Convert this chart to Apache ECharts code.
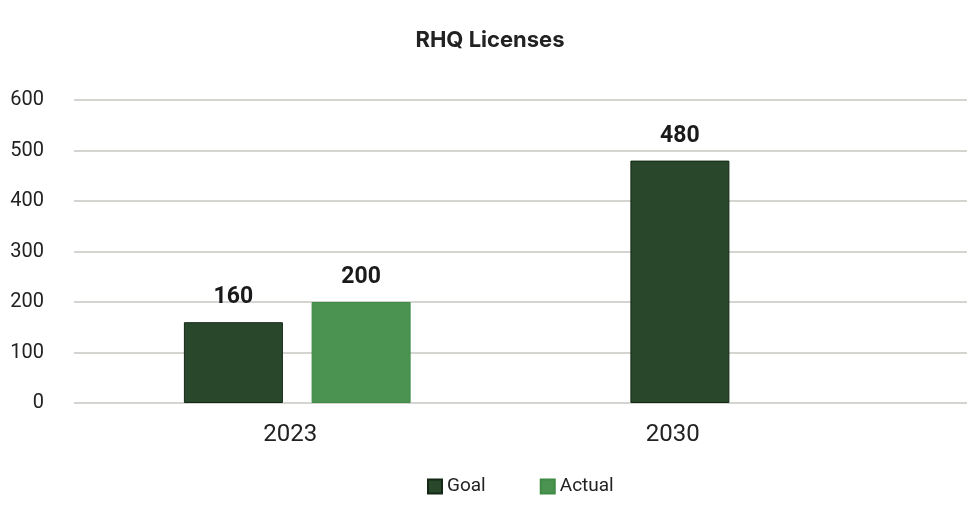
<!DOCTYPE html>
<html lang="en">
<head>
<meta charset="UTF-8">
<title>RHQ Licenses</title>
<script src="https://cdn.jsdelivr.net/npm/echarts@6.0.0/dist/echarts.min.js"></script>
<style>
    html, body { margin: 0; padding: 0; background: #fff; }
    #chart { width: 980px; height: 505px; }
</style>
</head>
<body>
<div id="chart"></div>
<script>
    const years = ['2023', '2030'];
    const goal = [160, 480];
    const actual = [200, null];

    const chart = echarts.init(document.getElementById('chart'));

    const labelStyle = {
        show: true,
        position: 'top',
        distance: 13,
        fontFamily: 'Roboto',
        fontWeight: 'bold',
        fontSize: 23,
        color: '#1a1a1a'
    };

    chart.setOption({
        title: {
            text: 'RHQ Licenses',
            left: 'center',
            top: 24,
            textStyle: { fontFamily: 'Inter', fontWeight: 'bold', fontSize: 22, color: '#222' }
        },
        legend: {
            bottom: 4,
            left: 422,
            itemWidth: 14,
            itemHeight: 14,
            itemGap: 54,
            icon: 'rect',
            textStyle: { fontFamily: 'Roboto', fontSize: 19, color: '#222' },
            data: ['Goal', 'Actual']
        },
        grid: { left: 74, right: 13, top: 100, bottom: 102 },
        xAxis: {
            type: 'category',
            data: years,
            axisLine: { show: false },
            axisTick: { show: false },
            axisLabel: {
                margin: 20,
                formatter: v => v === '2030' ? '{b|' + v + '}' : '{a|' + v + '}',
                rich: {
                    a: { fontFamily: 'Roboto', fontSize: 24, color: '#222', padding: [0, 14, 0, 0] },
                    b: { fontFamily: 'Roboto', fontSize: 24, color: '#222', padding: [0, 142, 0, 0] }
                }
            }
        },
        yAxis: {
            type: 'value',
            min: 0,
            max: 600,
            interval: 100,
            axisLabel: { fontFamily: 'Roboto', fontSize: 20, color: '#222', margin: 30 },
            splitLine: { lineStyle: { color: '#d4d4d0', width: 2 } }
        },
        series: [
            {
                name: 'Goal',
                type: 'bar',
                data: goal,
                barWidth: 99,
                barGap: '29%',
                itemStyle: { color: '#29472b', borderColor: '#152815', borderWidth: 1 },
                label: labelStyle
            },
            {
                name: 'Actual',
                type: 'bar',
                data: actual,
                barWidth: 99,
                itemStyle: { color: '#4a9350', borderColor: '#3f8a45', borderWidth: 1 },
                label: labelStyle
            }
        ]
    });
</script>
</body>
</html>
